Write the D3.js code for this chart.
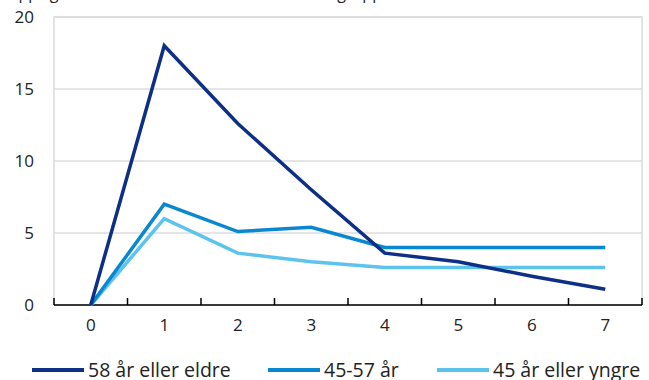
<!DOCTYPE html>
<html>
<head>
<meta charset="utf-8">
<script src="https://cdn.jsdelivr.net/npm/d3@7"></script>
<style>
  body { margin: 0; background: #fff; }
  text { font-family: "Open Sans", sans-serif; fill: #222; }
</style>
</head>
<body>
<svg width="649" height="380"></svg>
<script>
// chart data
var years = [0, 1, 2, 3, 4, 5, 6, 7];
var seriesNames = ["58 år eller eldre", "45-57 år", "45 år eller yngre"];
var oldest = [0, 18.0, 12.6, 8.0, 3.6, 3.0, 2.0, 1.1];
var middle = [0, 7.0, 5.1, 5.4, 4.0, 4.0, 4.0, 4.0];
var youngest = [0, 6.0, 3.6, 3.0, 2.6, 2.6, 2.6, 2.6];
var yTicks = [0, 5, 10, 15, 20];
var colors = ["#0d2f86", "#0a88cf", "#5cc3ec"];

var svg = d3.select("svg");
var plotL = 54, plotR = 642, plotT = 17, plotB = 305;

var x = d3.scaleBand().domain(years).range([plotL, plotR]).padding(0);
var y = d3.scaleLinear().domain([0, 20]).range([plotB, plotT]);

// cut off title at the very top
svg.append("text")
  .attr("x", 6).attr("y", -1)
  .style("font-size", "16px")
  .text("Oppsigelser. Prosent av ansatte i hver aldersgruppe");

// gridlines
svg.append("g").selectAll("line")
  .data(yTicks.filter(d => d > 0))
  .enter().append("line")
  .attr("x1", plotL).attr("x2", plotR)
  .attr("y1", d => y(d)).attr("y2", d => y(d))
  .attr("stroke", "#dcdcdc").attr("stroke-width", 1.5);

// frame
svg.append("rect")
  .attr("x", plotL).attr("y", plotT)
  .attr("width", plotR - plotL).attr("height", plotB - plotT)
  .attr("fill", "none").attr("stroke", "#dcdcdc").attr("stroke-width", 1.5);

// y axis labels
var yAxis = svg.append("g")
  .attr("transform", "translate(" + (plotL - 14) + ",0)")
  .call(d3.axisLeft(y).tickValues(yTicks).tickSize(0));
yAxis.select(".domain").remove();
yAxis.selectAll("text").style("font-size", "17px").attr("fill", "#222").attr("x", -6);

// x axis
var xAxis = svg.append("g")
  .attr("transform", "translate(0," + plotB + ")")
  .call(d3.axisBottom(x).tickSize(0).tickPadding(14));
xAxis.select(".domain").remove();
xAxis.selectAll("text").style("font-size", "17px").attr("fill", "#222");

svg.append("line")
  .attr("x1", plotL).attr("x2", plotR)
  .attr("y1", plotB).attr("y2", plotB)
  .attr("stroke", "#000").attr("stroke-width", 1.5);

var boundaries = years.map(d => x(d)).concat([plotR]);
svg.append("g").selectAll("line")
  .data(boundaries)
  .enter().append("line")
  .attr("x1", d => d).attr("x2", d => d)
  .attr("y1", plotB).attr("y2", plotB - 7)
  .attr("stroke", "#000").attr("stroke-width", 1.5);

// lines
var line = d3.line()
  .x((d, i) => x(years[i]) + x.bandwidth() / 2)
  .y(d => y(d));

var allSeries = [oldest, middle, youngest];
// draw youngest first so darker ones sit on top
[2, 1, 0].forEach(function(i) {
  svg.append("path")
    .datum(allSeries[i])
    .attr("d", line)
    .attr("fill", "none")
    .attr("stroke", colors[i])
    .attr("stroke-width", 3.5)
    .attr("stroke-linejoin", "miter");
});

// legend
var legendX = [32, 268, 437];
var legend = svg.append("g").selectAll("g")
  .data(seriesNames)
  .enter().append("g")
  .attr("transform", (d, i) => "translate(" + legendX[i] + ",370)");
legend.append("line")
  .attr("x1", 0).attr("x2", 52)
  .attr("y1", 0).attr("y2", 0)
  .attr("stroke", (d, i) => colors[i])
  .attr("stroke-width", 4);
legend.append("text")
  .attr("x", 56).attr("y", 7)
  .style("font-size", "19.5px")
  .text(d => d);
</script>
</body>
</html>
